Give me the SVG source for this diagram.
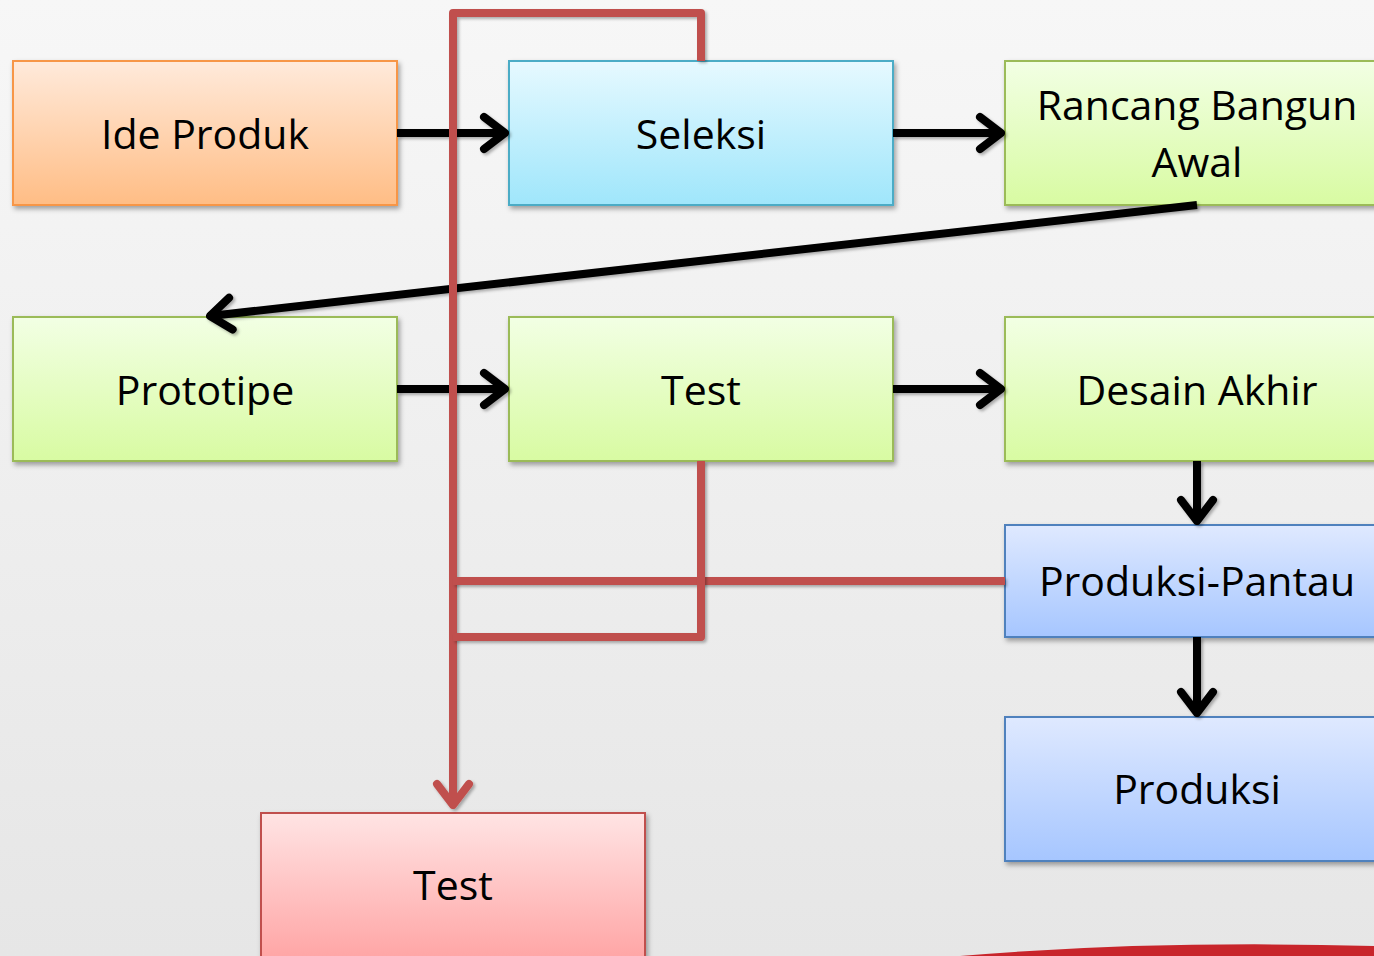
<svg xmlns="http://www.w3.org/2000/svg" width="1374" height="956" viewBox="0 0 1374 956">
  <defs>
    <linearGradient id="bg" x1="0" y1="0" x2="0" y2="1">
      <stop offset="0" stop-color="#f7f7f7"/>
      <stop offset="1" stop-color="#e6e6e6"/>
    </linearGradient>
    <linearGradient id="gOrange" x1="0" y1="0" x2="0" y2="1">
      <stop offset="0" stop-color="#ffeadb"/>
      <stop offset="1" stop-color="#ffbd85"/>
    </linearGradient>
    <linearGradient id="gCyan" x1="0" y1="0" x2="0" y2="1">
      <stop offset="0" stop-color="#e6f9ff"/>
      <stop offset="1" stop-color="#9fe6fb"/>
    </linearGradient>
    <linearGradient id="gGreen" x1="0" y1="0" x2="0" y2="1">
      <stop offset="0" stop-color="#f2ffe4"/>
      <stop offset="1" stop-color="#d8fba2"/>
    </linearGradient>
    <linearGradient id="gBlue" x1="0" y1="0" x2="0" y2="1">
      <stop offset="0" stop-color="#dfe9ff"/>
      <stop offset="1" stop-color="#a6c6ff"/>
    </linearGradient>
    <linearGradient id="gRed" x1="0" y1="0" x2="0" y2="1">
      <stop offset="0" stop-color="#ffe4e4"/>
      <stop offset="1" stop-color="#ff9f9f"/>
    </linearGradient>
    <filter id="shadow" x="-10%" y="-10%" width="130%" height="140%">
      <feDropShadow dx="2" dy="3" stdDeviation="2.5" flood-color="#000" flood-opacity="0.35"/>
    </filter>
    <!-- user-space region so purely horizontal/vertical lines still render -->
    <filter id="lineShadow" filterUnits="userSpaceOnUse" x="0" y="0" width="1374" height="956">
      <feDropShadow dx="2" dy="2" stdDeviation="1.5" flood-color="#000" flood-opacity="0.3"/>
    </filter>
    <marker id="arrowBlack" markerUnits="userSpaceOnUse" viewBox="-26 -22 30 44" refX="0" refY="0" markerWidth="30" markerHeight="44" orient="auto">
      <path d="M-21,-16 L0,0 L-21,16" fill="none" stroke="#000" stroke-width="8" stroke-linecap="round" stroke-linejoin="round"/>
    </marker>
    <marker id="arrowRed" markerUnits="userSpaceOnUse" viewBox="-26 -22 30 44" refX="0" refY="0" markerWidth="30" markerHeight="44" orient="auto">
      <path d="M-21,-16 L0,0 L-21,16" fill="none" stroke="#c0504d" stroke-width="8" stroke-linecap="round" stroke-linejoin="round"/>
    </marker>
  </defs>
  <style>
    .box { stroke-width: 2; filter: url(#shadow); }
    .orange { fill: url(#gOrange); stroke: #f79646; }
    .cyan { fill: url(#gCyan); stroke: #4bacc6; }
    .green { fill: url(#gGreen); stroke: #9bbb59; }
    .blue { fill: url(#gBlue); stroke: #4f81bd; }
    .red { fill: url(#gRed); stroke: #c0504d; }
    .label { font-family: "Open Sans", "Noto Sans", sans-serif; font-size: 41px; fill: #000; text-anchor: middle; }
    .blk { fill: none; stroke: #000; stroke-width: 8; marker-end: url(#arrowBlack); filter: url(#lineShadow); }
    .rd { fill: none; stroke: #c0504d; stroke-width: 8; stroke-linejoin: round; filter: url(#lineShadow); }
  </style>

  <!-- background -->
  <rect x="0" y="0" width="1374" height="956" fill="url(#bg)"/>
  <path d="M960,956 Q1150,940 1374,946 L1374,956 Z" fill="#c8252b"/>

  <!-- nodes -->
  <g id="ide-produk">
    <rect class="box orange" x="13" y="61" width="384" height="144"/>
    <text class="label" x="205" y="149">Ide Produk</text>
  </g>
  <g id="seleksi">
    <rect class="box cyan" x="509" y="61" width="384" height="144"/>
    <text class="label" x="701" y="149">Seleksi</text>
  </g>
  <g id="rancang-bangun-awal">
    <rect class="box green" x="1005" y="61" width="384" height="144"/>
    <text class="label" x="1197" y="120">Rancang Bangun</text>
    <text class="label" x="1197" y="177">Awal</text>
  </g>
  <g id="prototipe">
    <rect class="box green" x="13" y="317" width="384" height="144"/>
    <text class="label" x="205" y="405">Prototipe</text>
  </g>
  <g id="test">
    <rect class="box green" x="509" y="317" width="384" height="144"/>
    <text class="label" x="701" y="405">Test</text>
  </g>
  <g id="desain-akhir">
    <rect class="box green" x="1005" y="317" width="384" height="144"/>
    <text class="label" x="1197" y="405">Desain Akhir</text>
  </g>
  <g id="produksi-pantau">
    <rect class="box blue" x="1005" y="525" width="384" height="112"/>
    <text class="label" x="1197" y="596">Produksi-Pantau</text>
  </g>
  <g id="produksi">
    <rect class="box blue" x="1005" y="717" width="384" height="144"/>
    <text class="label" x="1197" y="804">Produksi</text>
  </g>
  <g id="test-gagal">
    <rect class="box red" x="261" y="813" width="384" height="160"/>
    <text class="label" x="453" y="900">Test</text>
  </g>

  <!-- connectors: main flow first, feedback lines on top -->
  <g id="connectors">
    <path class="blk" d="M397,133 H505"/>
    <path class="blk" d="M893,133 H1001"/>
    <path class="blk" d="M1197,205 L210,316"/>
    <path class="blk" d="M397,389 H505"/>
    <path class="blk" d="M893,389 H1001"/>
    <path class="blk" d="M1197,461 V521"/>
    <path class="blk" d="M1197,637 V713"/>
    <path class="rd" d="M701,61 V13 H453 V805" marker-end="url(#arrowRed)"/>
    <path class="rd" d="M1005,581 H453"/>
    <path class="rd" d="M701,461 V637 H453"/>
  </g>
</svg>
